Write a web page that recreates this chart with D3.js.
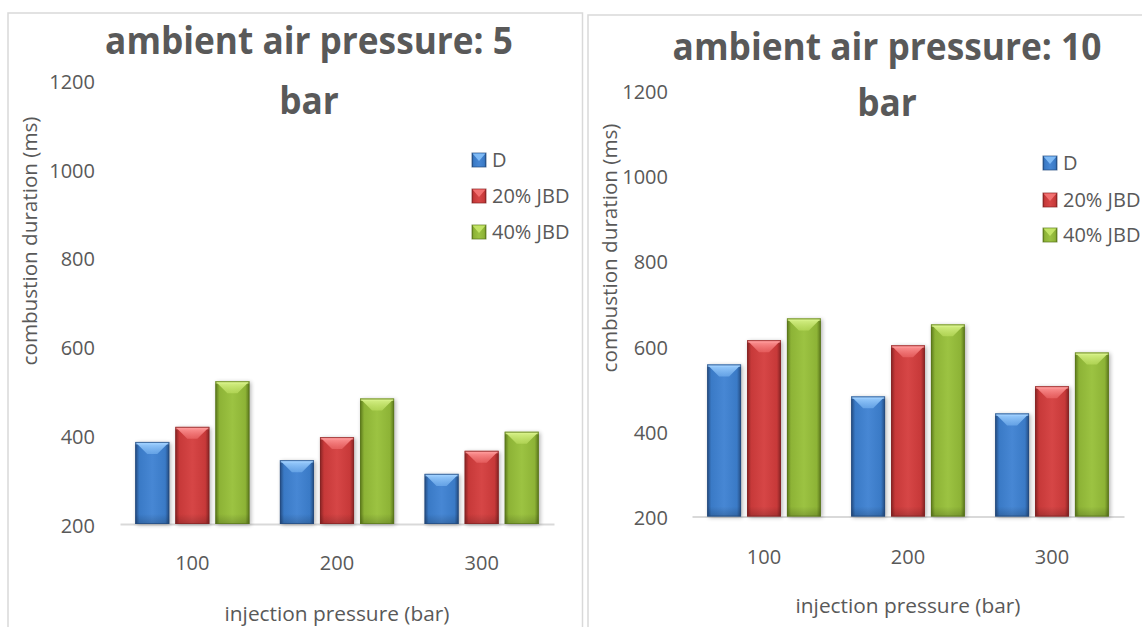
<!DOCTYPE html>
<html>
<head>
<meta charset="utf-8">
<script src="https://cdn.jsdelivr.net/npm/d3@7/dist/d3.min.js"></script>
<style>
  html, body { margin: 0; padding: 0; background: #ffffff; }
  svg { display: block; }
  text { font-family: "Open Sans", "DejaVu Sans", sans-serif; fill: #595959; }
</style>
</head>
<body>
<svg id="chart" width="1142" height="627"></svg>
<script>
// ---------------- data ----------------
const categories = ["100", "200", "300"];
const seriesNames = ["D", "20% JBD", "40% JBD"];
const yTickValues = [200, 400, 600, 800, 1000, 1200];

// ambient air pressure 5 bar
const p5_D      = [385, 344, 313];
const p5_JBD20  = [419, 396, 365];
const p5_JBD40  = [522, 483, 408];

// ambient air pressure 10 bar
const p10_D     = [557, 482, 442];
const p10_JBD20 = [614, 602, 506];
const p10_JBD40 = [665, 651, 585];

const titleLines5  = ["ambient air pressure: 5", "bar"];
const titleLines10 = ["ambient air pressure: 10", "bar"];
const xAxisTitle = "injection pressure (bar)";
const yAxisTitle = "combustion duration (ms)";

// ---------------- styling ----------------
const palette = {
  "D":       { edge: "#234a7e", body: "#3a7ac6", mid: "#4787d4", top: "#7fbaf5", band: "#9fd0ff" },
  "20% JBD": { edge: "#842323", body: "#c73939", mid: "#d64646", top: "#f27070", band: "#ff9a9a" },
  "40% JBD": { edge: "#5a761b", body: "#8db336", mid: "#9cc342", top: "#c2e365", band: "#d8f28a" }
};

const svg = d3.select("#chart");
const defs = svg.append("defs");

seriesNames.forEach((s, i) => {
  const c = palette[s];
  const g = defs.append("linearGradient").attr("id", "grad" + i)
    .attr("x1", "0").attr("x2", "1").attr("y1", "0").attr("y2", "0");
  [[0, c.edge], [0.12, c.body], [0.5, c.mid], [0.88, c.body], [1, c.edge]].forEach(([o, col]) =>
    g.append("stop").attr("offset", o).attr("stop-color", col));
  const t = defs.append("linearGradient").attr("id", "top" + i)
    .attr("x1", "0").attr("x2", "0").attr("y1", "0").attr("y2", "1");
  t.append("stop").attr("offset", 0).attr("stop-color", c.band);
  t.append("stop").attr("offset", 1).attr("stop-color", c.top).attr("stop-opacity", 0.55);
  const b = defs.append("linearGradient").attr("id", "bot" + i)
    .attr("x1", "0").attr("x2", "0").attr("y1", "0").attr("y2", "1");
  b.append("stop").attr("offset", 0).attr("stop-color", "#000").attr("stop-opacity", 0);
  b.append("stop").attr("offset", 1).attr("stop-color", "#000").attr("stop-opacity", 0.18);
});
const blur = defs.append("filter").attr("id", "shadow")
  .attr("x", "-30%").attr("y", "-10%").attr("width", "160%").attr("height", "130%");
blur.append("feGaussianBlur").attr("stdDeviation", 2);

// ---------------- panels ----------------
const panels = [
  { x: 8, y: 13, w: 574.5, h: 640 },
  { x: 588, y: 15, w: 600, h: 640 }
];
svg.selectAll("rect.panel").data(panels).enter().append("rect")
  .attr("class", "panel")
  .attr("x", d => d.x).attr("y", d => d.y).attr("width", d => d.w).attr("height", d => d.h)
  .attr("fill", "#ffffff").attr("stroke", "#d9d9d9").attr("stroke-width", 1.5);

function fitWidth(sel, target) {
  const len = sel.node().getComputedTextLength();
  const fs = parseFloat(sel.attr("font-size"));
  sel.attr("font-size", fs * target / len);
}

function drawChart(cfg) {
  const g = svg.append("g");
  const x0 = d3.scaleBand().domain(categories).range([cfg.left, cfg.right]).paddingInner(0).paddingOuter(0);
  const x1 = d3.scaleBand().domain(seriesNames).range([0, x0.bandwidth()])
    .paddingInner(0.15).paddingOuter(0.38);
  const y = d3.scaleLinear().domain([200, 1200]).range([cfg.bottom, cfg.top]);

  // y axis labels (no line, no ticks)
  const yAxis = d3.axisLeft(y).tickValues(yTickValues).tickFormat(d3.format("d")).tickSize(0).tickPadding(0);
  const ya = g.append("g").attr("transform", `translate(${cfg.yLabelX},0)`).call(yAxis);
  ya.attr("font-family", null).attr("font-size", null);
  ya.select(".domain").remove();
  ya.selectAll("text").attr("font-size", 20).attr("fill", "#595959")
    .style("font-family", "'Open Sans', sans-serif").attr("dy", "0.35em").attr("y", 1);

  // x axis
  const xAxis = d3.axisBottom(x0).tickSize(0).tickPadding(0);
  const xa = g.append("g").attr("transform", `translate(0,${cfg.bottom})`).call(xAxis);
  xa.attr("font-family", null).attr("font-size", null);
  xa.select(".domain").attr("stroke", "#d9d9d9").attr("stroke-width", 2.2);
  xa.selectAll("text").attr("font-size", 20).attr("fill", "#595959")
    .style("font-family", "'Open Sans', sans-serif")
    .attr("y", cfg.xLabelY - cfg.bottom).attr("dy", "0.35em");

  // bars
  cfg.series.forEach((vals, si) => {
    const s = seriesNames[si];
    categories.forEach((cat, ci) => {
      const v = vals[ci];
      const bx = x0(cat) + x1(s);
      const bw = x1.bandwidth();
      const by = y(v);
      const bh = y(200) - y(v);
      const bg = g.append("g");
      bg.append("rect").attr("x", bx + 1.5).attr("y", by + 1).attr("width", bw).attr("height", bh)
        .attr("fill", "#000").attr("opacity", 0.3).attr("filter", "url(#shadow)");
      bg.append("rect").attr("x", bx).attr("y", by).attr("width", bw).attr("height", bh)
        .attr("fill", `url(#grad${si})`);
      bg.append("rect").attr("x", bx).attr("y", by + bh - 10).attr("width", bw).attr("height", 10)
        .attr("fill", `url(#bot${si})`);
      bg.append("polygon")
        .attr("points", [[bx + 0.5, by + 0.5], [bx + bw - 0.5, by + 0.5], [bx + bw / 2 + 5, by + 12], [bx + bw / 2 - 5, by + 12]].map(p => p.join(",")).join(" "))
        .attr("fill", `url(#top${si})`);
      bg.append("rect").attr("x", bx).attr("y", by).attr("width", bw).attr("height", 2.5)
        .attr("fill", palette[s].band).attr("opacity", 0.7);
      bg.append("rect").attr("x", bx + 0.5).attr("y", by + 0.5).attr("width", bw - 1).attr("height", bh - 1)
        .attr("fill", "none").attr("stroke", palette[s].edge).attr("stroke-opacity", 0.7).attr("stroke-width", 1);
    });
  });

  // title (bold, condensed horizontally to the reference width)
  let ratio = 1;
  cfg.title.forEach((line, li) => {
    const t = g.append("text").attr("x", 0).attr("y", 0)
      .attr("text-anchor", "middle").attr("font-size", 38).attr("font-weight", "bold")
      .attr("fill", "#595959").style("font-family", "'Open Sans', sans-serif").text(line);
    const natural = t.node().getComputedTextLength();
    if (li === 0) ratio = cfg.titleW / natural;
    t.attr("transform", `translate(${cfg.titleX},${cfg.titleY[li]}) scale(${ratio},1)`);
  });

  // axis titles
  const xt = g.append("text").attr("x", cfg.xTitleX).attr("y", cfg.xTitleY).attr("dy", "0.35em")
    .attr("text-anchor", "middle").attr("font-size", 19).text(xAxisTitle);
  fitWidth(xt, 225);
  const yt = g.append("text")
    .attr("transform", `translate(${cfg.yTitleX},${cfg.yTitleY}) rotate(-90)`)
    .attr("dy", "0.35em").attr("text-anchor", "middle").attr("font-size", 19).text(yAxisTitle);
  fitWidth(yt, 249);

  // legend
  const lg = g.append("g");
  seriesNames.forEach((s, si) => {
    const ly = cfg.legendY[si];
    const sx = cfg.legendX;
    const sz = 14;
    lg.append("rect").attr("x", sx).attr("y", ly - sz / 2).attr("width", sz).attr("height", sz)
      .attr("fill", `url(#grad${si})`).attr("stroke", palette[s].edge).attr("stroke-opacity", 0.7);
    lg.append("polygon")
      .attr("points", [[sx + 0.5, ly - sz / 2 + 0.5], [sx + sz - 0.5, ly - sz / 2 + 0.5], [sx + sz / 2, ly + 1]].map(p => p.join(",")).join(" "))
      .attr("fill", palette[s].top);
    lg.append("text").attr("x", sx + 20).attr("y", ly).attr("dy", "0.35em")
      .attr("font-size", 20).text(s);
  });
}

drawChart({
  left: 120, right: 554, top: 80.5, bottom: 524,
  yLabelX: 95, xLabelY: 563,
  series: [p5_D, p5_JBD20, p5_JBD40],
  title: titleLines5, titleX: 309, titleY: [54, 114], titleW: 408,
  xTitleX: 337, xTitleY: 614,
  yTitleX: 30, yTitleY: 241,
  legendX: 472, legendY: [160, 196, 232]
});

drawChart({
  left: 692, right: 1124, top: 90.5, bottom: 516.5,
  yLabelX: 668, xLabelY: 557,
  series: [p10_D, p10_JBD20, p10_JBD40],
  title: titleLines10, titleX: 887, titleY: [60, 116], titleW: 429,
  xTitleX: 908, xTitleY: 606,
  yTitleX: 610, yTitleY: 248,
  legendX: 1043, legendY: [163, 200, 235]
});
</script>
</body>
</html>
